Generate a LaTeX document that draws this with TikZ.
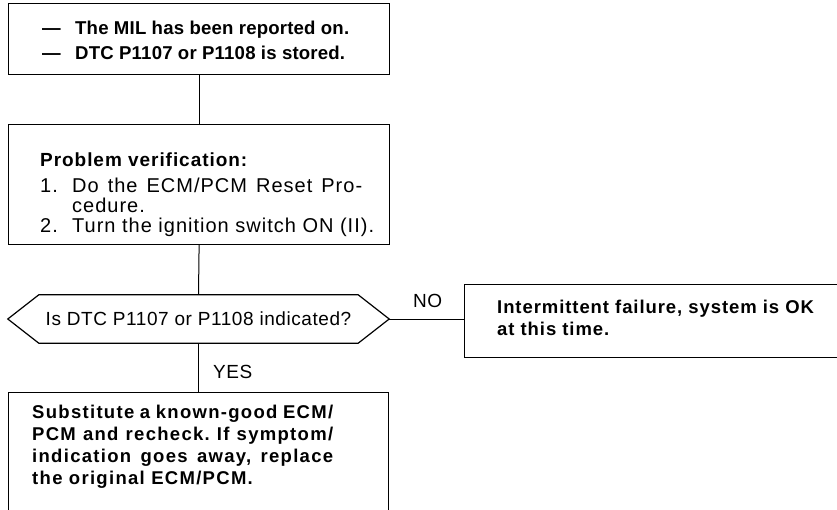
\documentclass[tikz,border=0pt]{standalone}
\usepackage{fontspec}
\setmainfont{Liberation Sans}
\newfontfamily\fA[LetterSpace=1]{Liberation Sans}
\newfontfamily\fB[LetterSpace=5]{Liberation Sans}
\newfontfamily\fH[LetterSpace=3]{Liberation Sans}
\newfontfamily\fR[LetterSpace=5]{Liberation Sans}
\newfontfamily\fS[LetterSpace=7]{Liberation Sans}
\frenchspacing
\begin{document}
\begin{tikzpicture}[x=1pt,y=-1pt,
  box/.style={draw, rectangle, line width=1.2pt, inner sep=0pt, anchor=north west},
  hexnode/.style={rectangle, inner sep=0pt, minimum width=381pt, minimum height=48pt, font=\fH\fontsize{19}{22}\selectfont},
  hexline/.style={line width=1.2pt, line join=miter},
  conn/.style={line width=1pt},
  txt/.style={inner sep=0pt, anchor=base west},
  tA/.style={txt, font=\fA\bfseries\fontsize{18.6}{22}\selectfont},
  tB/.style={txt, font=\fB\fontsize{20}{22}\selectfont},
  tR/.style={txt, font=\fR\bfseries\fontsize{18.5}{22}\selectfont},
  tS/.style={txt, font=\fS\bfseries\fontsize{18.5}{22}\selectfont},
  lab/.style={txt, font=\fH\fontsize{19}{22}\selectfont}]
\useasboundingbox (0,0) rectangle (837,510);
\fill[white] (0,0) rectangle (837,510);

% boxes
\node[box, minimum width=381pt, minimum height=71pt] (b1) at (8,3) {};
\node[box, minimum width=381pt, minimum height=120pt] (b2) at (8,124) {};
\node[hexnode] (q) at (198.5,319) {\frenchspacing Is DTC P1107 or P1108 indicated?};
\draw[hexline] (q.west) -- ([xshift=31pt]q.north west) -- ([xshift=-31pt]q.north east)
  -- (q.east) -- ([xshift=-31pt]q.south east) -- ([xshift=31pt]q.south west) -- cycle;
\node[box, minimum width=400pt, minimum height=73pt] (b4) at (464,284) {};
\node[box, minimum width=380pt, minimum height=140pt] (b5) at (8,392) {};

% texts
\node[tA] (t1a) at (42,34.3) {\makebox[33pt][l]{—}The MIL has been reported on.};
\node[tA] (t1b) at (42,60) {\makebox[33pt][l]{—}DTC P1107 or P1108 is stored.};

\node[tB, font=\fB\bfseries\fontsize{19}{22}\selectfont] (t2a) at (40,167) {Problem verification:};
\node[tB] (t2b) at (40,193) {\makebox[32pt][l]{1.}\makebox[290pt][s]{Do the ECM/PCM Reset Pro-}};
\node[tB] (t2c) at (72,213) {cedure.};
\node[tB] (t2d) at (40,233) {\makebox[32pt][l]{2.}Turn the ignition switch ON (II).};

\node[tR] (t4a) at (497,313) {Intermittent failure, system is OK};
\node[tR] (t4b) at (497,335) {at this time.};

\node[tS] (t5a) at (32,418) {\makebox[301pt][s]{Substitute a known-good ECM/}};
\node[tS] (t5b) at (32,440) {\makebox[301pt][s]{PCM and recheck. If symptom/}};
\node[tS] (t5c) at (32,462) {\makebox[301pt][s]{indication goes away, replace}};
\node[tS] (t5d) at (32,484) {the original ECM/PCM.};

\node[lab] (no) at (413,308) {NO};
\node[lab] (yes) at (213,378) {YES};

% connectors
\draw[conn] (b1.south) -- (b2.north);
\draw[conn] (b2.south) -- (q.north);
\draw[conn] (q.south) -- (q.south |- b5.north);
\draw[conn] (q.east) -- (q.east -| b4.west);
\end{tikzpicture}
\end{document}
